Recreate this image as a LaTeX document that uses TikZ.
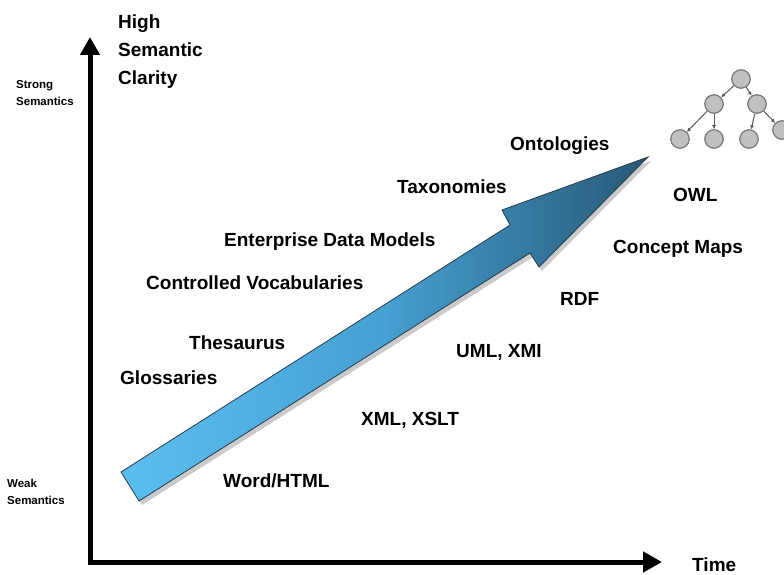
\documentclass[tikz,border=0pt]{standalone}
\usepackage{fontspec}
\setmainfont{Liberation Sans}
\usetikzlibrary{arrows.meta,shadows}
\definecolor{treefill}{RGB}{192,192,192}
\definecolor{treeborder}{RGB}{120,120,120}
\definecolor{treeedge}{RGB}{90,90,90}
\definecolor{arrowlight}{RGB}{92,190,240}
\definecolor{arrowmid}{RGB}{70,160,210}
\definecolor{arrowdark}{RGB}{38,88,118}
\definecolor{arrowedge}{RGB}{40,60,75}
\begin{document}
\begin{tikzpicture}[x=1pt,y=-1pt,
  lbl/.style={font=\fontsize{19}{22}\selectfont\bfseries, anchor=base west, inner sep=0pt},
  small/.style={font=\fontsize{11.5}{14}\selectfont\bfseries, anchor=base west, inner sep=0pt},
  axisline/.style={line width=5pt, draw=black},
  tnode/.style={circle, fill=treefill, draw=treeborder, line width=1.2pt, minimum size=18.5pt, inner sep=0pt},
  tedge/.style={draw=treeedge, line width=1pt, -{Latex[length=4pt,width=4pt]}}
]
\useasboundingbox (0,0) rectangle (784,575);
\clip (0,0) rectangle (784,575);

% axes
\coordinate (ytop) at (90,37);
\coordinate (orig) at (90,562);
\coordinate (xend) at (662,562);
\draw[axisline, {Triangle[length=18pt,width=19pt]}-{Triangle[length=19pt,width=20pt]}] (ytop) -- (orig) -- (xend);

% big arrow
\coordinate (t1) at (121,472);
\coordinate (t2) at (139,501);
\coordinate (s2) at (530,253);
\coordinate (b2) at (539,267);
\coordinate (tip) at (648,157);
\coordinate (b1) at (502,210);
\coordinate (s1) at (510,225);
\path[draw=arrowedge, line width=0.8pt, left color=arrowlight, right color=arrowdark, middle color=arrowmid,
  drop shadow={shadow xshift=3pt, shadow yshift=-4pt, opacity=0.35, fill=black!60}]
  (t1) -- (t2) -- (s2) -- (b2) -- (tip) -- (b1) -- (s1) -- cycle;

% axis labels
\node[lbl] (h1) at (118,29) {High};
\node[lbl] (h2) at (118,57) {Semantic};
\node[lbl] (h3) at (118,85) {Clarity};
\node[lbl] (time) at (692,571) {Time};
\node[small] (ss1) at (16,89) {Strong};
\node[small] (ss2) at (16,106) {Semantics};
\node[small] (ws1) at (7,487) {Weak};
\node[small] (ws2) at (7,504) {Semantics};

% labels
\node[lbl] (onto) at (510,150) {Ontologies};
\node[lbl] (taxo) at (397,193) {Taxonomies};
\node[lbl] (edm) at (224,246) {Enterprise Data Models};
\node[lbl] (cv) at (146,289) {Controlled Vocabularies};
\node[lbl] (thes) at (189,349) {Thesaurus};
\node[lbl] (glos) at (120,384) {Glossaries};
\node[lbl] (word) at (223,487) {Word/HTML};
\node[lbl] (xml) at (361,425) {XML, XSLT};
\node[lbl] (uml) at (456,357) {UML, XMI};
\node[lbl] (rdf) at (560,305) {RDF};
\node[lbl] (cmap) at (613,253) {Concept Maps};
\node[lbl] (owl) at (673,201) {OWL};

% tree
\node[tnode] (r) at (741,79) {};
\node[tnode] (a) at (714,104) {};
\node[tnode] (b) at (757,104) {};
\node[tnode] (a1) at (680,139) {};
\node[tnode] (a2) at (714,139) {};
\node[tnode] (b1n) at (749,139) {};
\node[tnode] (b2n) at (782,130) {};
\draw[tedge] (r) -- (a);
\draw[tedge] (r) -- (b);
\draw[tedge] (a) -- (a1);
\draw[tedge] (a) -- (a2);
\draw[tedge] (b) -- (b1n);
\draw[tedge] (b) -- (b2n);
\end{tikzpicture}
\end{document}
